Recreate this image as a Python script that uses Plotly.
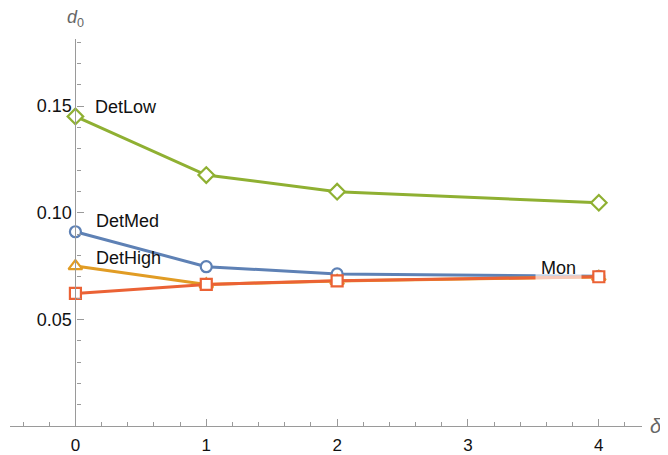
import plotly.graph_objects as go

delta = [0, 1, 2, 4]
det_med = [0.0911, 0.0747, 0.0713, 0.0702]
det_high = [0.0750, 0.0664, 0.0680, 0.0699]
det_low = [0.1452, 0.1177, 0.1099, 0.1047]
mon = [0.0622, 0.0664, 0.0681, 0.0700]

series = [
    ("DetMed", det_med, "#5E81B5", "circle", 11),
    ("DetHigh", det_high, "#E19C24", "triangle-up", 12),
    ("DetLow", det_low, "#8FB032", "diamond", 12),
    ("Mon", mon, "#EB6235", "square", 11),
]

labels = [
    ("DetLow", 0.135, 0.1496),
    ("DetMed", 0.143, 0.0962),
    ("DetHigh", 0.143, 0.0788),
]
mon_label = ("Mon", 3.69, 0.0741)

FONT = "Liberation Sans, Arial, sans-serif"
AXIS_COLOR = "#9a9a9a"

fig = go.Figure()
for name, vals, color, sym, size in series:
    fig.add_trace(go.Scatter(
        x=delta, y=vals, mode="lines+markers", name=name,
        line=dict(color=color, width=3),
        marker=dict(symbol=sym, size=size, color="white",
                    line=dict(color=color, width=2.2)),
        showlegend=False,
    ))

for text, xv, yv in labels:
    fig.add_annotation(x=xv, y=yv, xref="x", yref="y", text=text,
                       showarrow=False, xanchor="left", yanchor="middle",
                       font=dict(family=FONT, size=18, color="#111"))

fig.add_annotation(x=mon_label[1], y=mon_label[2], xref="x", yref="y",
                   text=mon_label[0], showarrow=False,
                   xanchor="center", yanchor="middle",
                   bgcolor="rgba(255,255,255,0.65)", borderpad=5,
                   font=dict(family=FONT, size=18, color="#111"))

# axis labels
fig.add_annotation(x=0, y=1.054, xref="x", yref="paper",
                   text="<i>d</i><sub>0</sub>", showarrow=False,
                   xanchor="center", yanchor="middle",
                   font=dict(family=FONT, size=18, color="#666"))
fig.add_annotation(x=1.022, y=0, xref="paper", yref="y",
                   text="<i>δ</i>", showarrow=False,
                   xanchor="center", yanchor="middle",
                   font=dict(family=FONT, size=20, color="#666"))

# page body has an 8px margin, so the figure is drawn 8px right and down
fig.update_layout(
    width=660, height=447,
    margin=dict(l=2, r=26, t=31, b=29, autoexpand=False),
    plot_bgcolor="white", paper_bgcolor="white",
    font=dict(family=FONT, size=18, color="#111"),
    xaxis=dict(
        range=[-0.5, 4.33], showgrid=False, zeroline=False, automargin=False,
        showline=True, linecolor=AXIS_COLOR, linewidth=1.3,
        tickvals=[0, 1, 2, 3, 4], ticks="inside", ticklen=7,
        tickcolor=AXIS_COLOR, tickwidth=1,
        minor=dict(dtick=0.2, tick0=0, ticks="inside", ticklen=4,
                   tickcolor=AXIS_COLOR, showgrid=False),
        tickfont=dict(family=FONT, size=17, color="#111"),
        ticklabelstandoff=3,
    ),
    yaxis=dict(
        range=[0, 0.1815], showgrid=False, zeroline=False, automargin=False,
        anchor="free", position=0.5 / 4.83,
        showline=True, linecolor=AXIS_COLOR, linewidth=1.3,
        tickvals=[0.05, 0.10, 0.15], ticktext=["0.05", "0.10", "0.15"],
        ticks="inside", ticklen=7, tickcolor=AXIS_COLOR, tickwidth=1,
        minor=dict(dtick=0.01, tick0=0, ticks="inside", ticklen=4,
                   tickcolor=AXIS_COLOR, showgrid=False),
        tickfont=dict(family=FONT, size=18, color="#111"),
    ),
)

fig.write_html("out.html")
